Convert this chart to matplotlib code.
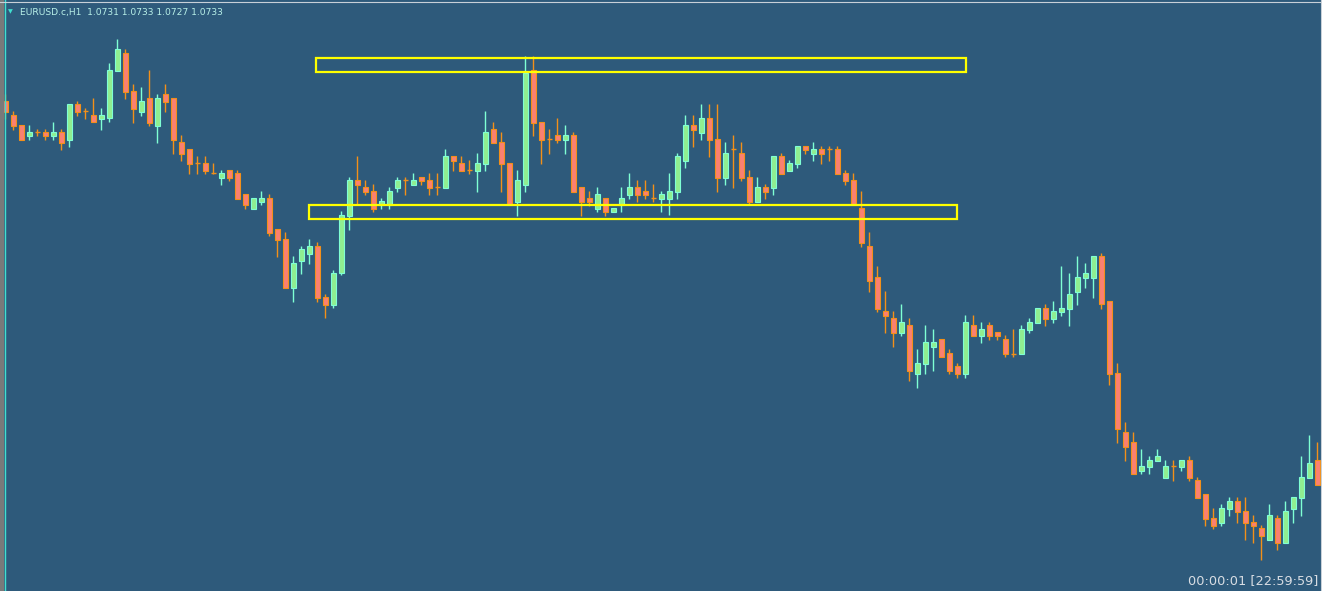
import numpy as np
import matplotlib.pyplot as plt
from matplotlib.patches import Rectangle

# EURUSD H1 candles, values in screen rows (smaller = higher price)
opens = [101, 115, 125, 136, 132, 132, 136, 132, 140, 104, 111, 115, 119, 118, 71, 53, 91, 112, 98, 126,
         94, 98, 142, 149, 163, 163, 173, 178, 170, 173, 194, 209, 202, 198, 229, 239, 288, 261, 254, 246,
         297, 305, 273, 216, 180, 187, 191, 205, 205, 188, 180, 185, 177, 180, 187, 188, 156, 163, 170, 171,
         164, 129, 142, 163, 202, 185, 70, 122, 139, 135, 140, 135, 187, 198, 209, 198, 212, 205, 195, 187,
         191, 198, 199, 199, 192, 161, 125, 133, 118, 139, 178, 149, 153, 177, 202, 187, 188, 156, 171, 164,
         146, 154, 149, 149, 149, 173, 180, 208, 246, 277, 311, 318, 333, 325, 374, 364, 347, 339, 353, 366,
         374, 325, 336, 325, 332, 339, 354, 354, 330, 323, 308, 319, 312, 309, 292, 278, 278, 256, 301, 373,
         432, 442, 471, 467, 461, 478, 466, 467, 460, 480, 494, 518, 523, 509, 501, 511, 522, 528, 540, 518,
         543, 509, 498, 478, 460]
highs = [94, 111, 125, 125, 129, 129, 122, 129, 104, 101, 108, 98, 108, 63, 39, 49, 84, 87, 70, 94,
         84, 98, 135, 149, 156, 156, 163, 170, 170, 170, 194, 198, 191, 194, 229, 232, 256, 246, 239, 242,
         294, 270, 211, 177, 156, 180, 184, 198, 187, 177, 177, 173, 177, 173, 173, 149, 156, 156, 160, 153,
         111, 122, 132, 163, 170, 56, 56, 122, 129, 118, 125, 132, 187, 191, 187, 198, 208, 187, 173, 180,
         180, 184, 191, 173, 153, 115, 115, 104, 104, 104, 142, 135, 142, 170, 177, 184, 156, 153, 160, 146,
         146, 142, 146, 146, 146, 170, 173, 191, 232, 266, 291, 311, 304, 318, 349, 325, 329, 339, 349, 363,
         315, 315, 322, 322, 332, 335, 329, 325, 318, 308, 304, 301, 266, 273, 256, 263, 256, 253, 301, 363,
         422, 432, 449, 456, 449, 460, 460, 460, 456, 477, 494, 508, 504, 497, 497, 497, 515, 525, 504, 515,
         501, 497, 456, 435, 442]
lows = [119, 130, 140, 140, 136, 140, 140, 150, 147, 116, 119, 122, 130, 122, 71, 99, 123, 116, 126, 143,
        112, 154, 161, 174, 174, 174, 174, 185, 181, 199, 209, 209, 205, 236, 257, 288, 302, 274, 264, 302,
        318, 308, 275, 230, 205, 195, 212, 209, 209, 192, 195, 185, 185, 195, 195, 188, 171, 171, 174, 192,
        171, 143, 192, 205, 216, 192, 136, 164, 154, 143, 154, 192, 216, 206, 212, 216, 212, 212, 199, 202,
        199, 202, 212, 215, 199, 168, 147, 140, 157, 192, 185, 188, 181, 205, 202, 199, 195, 174, 171, 168,
        154, 161, 164, 161, 174, 185, 205, 247, 292, 312, 333, 347, 336, 381, 388, 374, 371, 357, 374, 378,
        378, 336, 343, 340, 340, 357, 357, 354, 333, 323, 326, 323, 316, 326, 305, 288, 298, 309, 385, 443,
        461, 474, 474, 474, 461, 478, 481, 471, 481, 498, 526, 529, 526, 516, 523, 540, 543, 560, 540, 550,
        543, 523, 516, 478, 485]
closes = [112, 126, 140, 132, 132, 136, 132, 143, 104, 112, 111, 122, 115, 70, 49, 92, 109, 101, 123, 98,
          102, 140, 154, 164, 163, 171, 173, 173, 178, 199, 205, 198, 198, 233, 240, 288, 263, 249, 246, 298,
          305, 273, 215, 180, 185, 192, 209, 201, 191, 180, 180, 180, 181, 188, 187, 156, 161, 171, 170, 163,
          132, 143, 164, 205, 180, 73, 123, 140, 139, 140, 135, 192, 202, 202, 194, 212, 208, 198, 187, 195,
          195, 198, 194, 191, 156, 125, 130, 118, 140, 178, 153, 149, 178, 202, 187, 192, 156, 174, 163, 146,
          150, 149, 154, 149, 174, 181, 205, 243, 281, 309, 316, 333, 322, 371, 363, 342, 342, 357, 371, 374,
          322, 336, 329, 336, 336, 354, 354, 329, 322, 308, 319, 311, 308, 294, 277, 273, 256, 304, 374, 429,
          447, 474, 466, 460, 456, 466, 466, 460, 478, 498, 519, 526, 508, 501, 512, 523, 526, 536, 515, 543,
          511, 497, 477, 463, 485]

# support / resistance boxes: start candle, end candle, top row, bottom row
zone_start = [38.8, 37.9]
zone_end = [120.1, 118.9]
zone_top = [58, 205]
zone_bottom = [72, 219]

title_text = "EURUSD.c,H1  1.0731 1.0733 1.0727 1.0733"
clock_text = "00:00:01 [22:59:59]"

fondo = '#2e5a7b'
verde = '#90ee90'
verde_borde = '#7fffd4'
rojo = '#fa8072'
naranja = '#f39019'

o = np.array(opens)
h = np.array(highs)
l = np.array(lows)
c = np.array(closes)
x = np.arange(len(o))

ventana = plt.figure(figsize=(13.22, 5.91), dpi=100)
ventana.patch.set_facecolor(fondo)
plano = ventana.add_axes([0, 0, 1, 1])
plano.set_facecolor(fondo)
plano.set_xlim(-5.3 / 8, (1322 - 5.3) / 8)
plano.set_ylim(591, 0)
plano.set_xticks([])
plano.set_yticks([])
for s in plano.spines.values():
    s.set_visible(False)

sube = c < o
baja = c > o
doji = c == o

# wicks
plano.vlines(x[sube], h[sube], l[sube], color=verde_borde, lw=1.0, zorder=2)
plano.vlines(x[~sube], h[~sube], l[~sube], color=naranja, lw=1.0, zorder=2)

# bodies
plano.bar(x[sube], o[sube] - c[sube], bottom=c[sube], width=0.62,
          color=verde, edgecolor=verde_borde, lw=0.8, zorder=3)
plano.bar(x[baja], c[baja] - o[baja], bottom=o[baja], width=0.62,
          color=rojo, edgecolor=naranja, lw=0.8, zorder=3)
plano.hlines(o[doji], x[doji] - 0.31, x[doji] + 0.31, color=naranja, lw=1.0, zorder=3)

# yellow zones
for i in range(len(zone_start)):
    plano.add_patch(Rectangle((zone_start[i], zone_top[i]), zone_end[i] - zone_start[i],
                              zone_bottom[i] - zone_top[i], fill=False,
                              edgecolor='#ffff00', lw=1.6, zorder=4))

# frame of the chart window
ventana.add_artist(Rectangle((0, 0), 3 / 1322, 1, transform=ventana.transFigure,
                             color='#7a7a7a', zorder=5))
ventana.add_artist(plt.Line2D([4.5 / 1322] * 2, [0, 1], transform=ventana.transFigure,
                              color='#40e0d0', lw=1.0, zorder=5))
ventana.add_artist(plt.Line2D([0, 1], [1 - 1.5 / 591] * 2, transform=ventana.transFigure,
                              color='#c8d0d8', lw=0.8, zorder=5))
ventana.add_artist(plt.Line2D([1320.5 / 1322] * 2, [0, 1], transform=ventana.transFigure,
                              color='#c8d0d8', lw=0.8, zorder=5))

ventana.text(8 / 1322, 1 - 12 / 591, '\u25bc', fontsize=4.5, color='#40e0d0', va='center')
ventana.text(20 / 1322, 1 - 12 / 591, title_text, fontsize=6.6, color='#b8f0e8', va='center')
ventana.text(1318 / 1322, 1 - 581 / 591, clock_text, fontsize=9.3, color='#d8dde3',
             ha='right', va='center')

ventana.savefig('out.png', dpi=100, facecolor=fondo)
